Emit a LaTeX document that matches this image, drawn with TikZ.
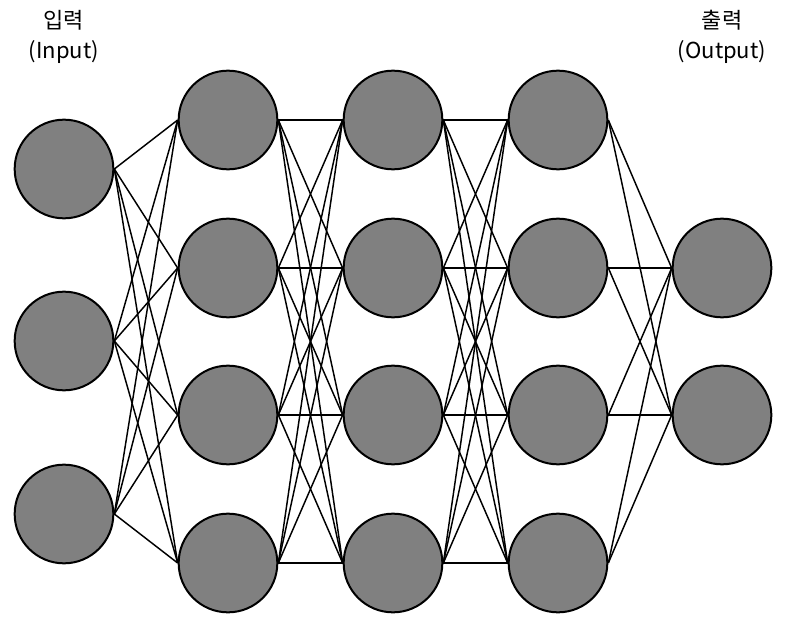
\documentclass[tikz,border=0pt]{standalone}
\usepackage{fontspec}
\setmainfont{Noto Sans CJK KR}
\usetikzlibrary{positioning}
\definecolor{nngray}{rgb}{0.5,0.5,0.5}

\begin{document}
\begin{tikzpicture}[x=0.75pt,y=-0.75pt,font=\fontsize{16.5}{23}\selectfont,
  neuron/.style={circle,draw=black,fill=nngray,line width=1.5pt,minimum size=74pt,inner sep=0pt},
  link/.style={line width=1.1pt}]
  \useasboundingbox (0,0) rectangle (786,617);
  % layers
  \foreach \i/\y in {1/169,2/341,3/514} \node[neuron] (in\i) at (64,\y) {};
  \foreach \l/\x in {1/228,2/393,3/558}
    \foreach \i/\y in {1/120,2/268,3/415,4/563} \node[neuron] (h\l\i) at (\x,\y) {};
  \foreach \i/\y in {1/268,2/415} \node[neuron] (out\i) at (722,\y) {};
  % connections
  \foreach \a in {1,2,3} \foreach \b in {1,...,4} \draw[link] (in\a.east) -- (h1\b.west);
  \foreach \a in {1,...,4} \foreach \b in {1,...,4} {
    \draw[link] (h1\a.east) -- (h2\b.west);
    \draw[link] (h2\a.east) -- (h3\b.west);}
  \foreach \a in {1,...,4} \foreach \b in {1,2} \draw[link] (h3\a.east) -- (out\b.west);
  % labels
  \node[align=center] (inlabel) at (64,37) {입력\\(Input)};
  \node[align=center] (outlabel) at (722,37) {출력\\(Output)};
\end{tikzpicture}
\end{document}
